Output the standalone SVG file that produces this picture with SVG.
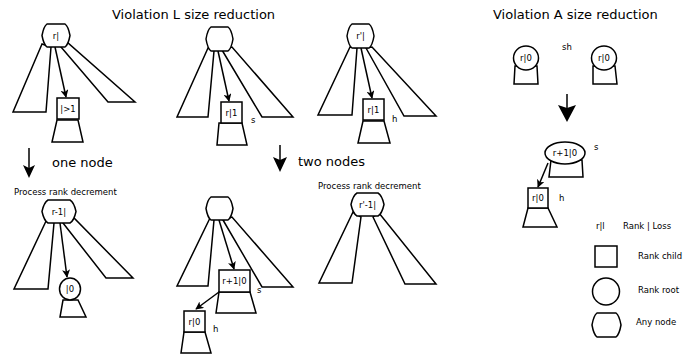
<svg xmlns="http://www.w3.org/2000/svg" width="686" height="358" viewBox="0 0 686 358">
<defs>
<style>
.s{fill:#fff;stroke:#000;stroke-width:1.5;stroke-linejoin:miter}
.e{fill:none;stroke:#000;stroke-width:1.5}
.t{font-family:"DejaVu Sans",Verdana,sans-serif;fill:#000}
.big{font-size:13px}
.sm{font-size:8.5px}
.c{text-anchor:middle}
</style>
<marker id="ah" viewBox="0 0 10 10" refX="9" refY="5" markerWidth="8" markerHeight="8" markerUnits="userSpaceOnUse" orient="auto">
<path d="M0,0 L10,5 L0,10 L2.5,5 Z" fill="#000"/>
</marker>
</defs>
<rect width="686" height="358" fill="#fff"/>

<g id="titles">
<text class="t big" x="112" y="19">Violation L size reduction</text>
<text class="t big" x="493" y="19">Violation A size reduction</text>
<text class="t big" x="52" y="167">one node</text>
<text class="t big" x="298" y="166">two nodes</text>
<text class="t sm" x="14" y="195">Process rank decrement</text>
<text class="t sm" x="318" y="189">Process rank decrement</text>
</g>

<g id="connectors">
<line class="e" x1="55" y1="47" x2="66" y2="97" marker-end="url(#ah)"/>
<line class="e" x1="218" y1="51" x2="229" y2="101" marker-end="url(#ah)"/>
<line class="e" x1="361" y1="48" x2="372" y2="98" marker-end="url(#ah)"/>
<line class="e" x1="60" y1="223" x2="67" y2="277" marker-end="url(#ah)"/>
<line class="e" x1="219" y1="220" x2="234" y2="269" marker-end="url(#ah)"/>
<line class="e" x1="219" y1="292" x2="196" y2="309" marker-end="url(#ah)"/>
<line class="e" x1="548" y1="163" x2="538" y2="187" marker-end="url(#ah)"/>
<path class="e" d="M29,148 V169"/>
<path d="M23,165 L29,178 L35,165 L29,168 Z" fill="#000"/>
<path class="e" d="M280,145 V163"/>
<path d="M273,157 L280,172 L287,157 L280,160 Z" fill="#000"/>
<path class="e" d="M567,94 V110"/>
<path d="M558,105 L567,122 L576,105 L567,108 Z" fill="#000"/>
</g>

<g id="p1">
<polygon class="s" points="42,44 13,112 46,112 51,47"/>
<polygon class="s" points="61,47 108,102 135,102 68,43"/>
<path class="s" d="M47,24 H65 Q68.3,26.3 70,35.5 Q68.3,44.7 65,47 H47 Q43.7,44.7 42,35.5 Q43.7,26.3 47,24 Z"/>
<text class="t sm c" x="56" y="38.5">r|</text>
<polygon class="s" points="57,120 78,120 83,142 52,142"/>
<rect class="s" x="57" y="98" width="22" height="21"/>
<text class="t sm c" x="68" y="112">|&gt;1</text>
</g>

<g id="p2">
<polygon class="s" points="208,48 177,117 208,117 214,51"/>
<polygon class="s" points="222,50 262,117 293,117 232,47"/>
<path class="s" d="M211,27 H228 Q231.4,29.4 233,39 Q231.4,48.6 228,51 H211 Q207.6,48.6 206,39 Q207.6,29.4 211,27 Z"/>
<polygon class="s" points="219,123 242,123 247,145 217,145"/>
<rect class="s" x="221" y="102" width="21" height="21"/>
<text class="t sm c" x="231.5" y="116">r|1</text>
<text class="t sm" x="251" y="123">s</text>
</g>

<g id="p3">
<polygon class="s" points="350,47 318,115 352,115 357,48"/>
<polygon class="s" points="366,48 404,116 436,116 372,47"/>
<path class="s" d="M352,24 H369 Q372.4,26.4 374,36 Q372.4,45.6 369,48 H352 Q348.6,45.6 347,36 Q348.6,26.4 352,24 Z"/>
<text class="t sm c" x="360.5" y="39">r'|</text>
<polygon class="s" points="363,121 384,121 390,143 358,143"/>
<rect class="s" x="363" y="99" width="21" height="21"/>
<text class="t sm c" x="373.5" y="113">r|1</text>
<text class="t sm" x="392" y="122">h</text>
</g>

<g id="p4">
<polygon class="s" points="47,219 14,289 48,289 54,223"/>
<polygon class="s" points="63,223 106,278 133,278 74,218"/>
<path class="s" d="M48,200 H70 Q74,202.3 76,211.5 Q74,220.7 70,223 H48 Q44,220.7 42,211.5 Q44,202.3 48,200 Z"/>
<text class="t sm c" x="59" y="214.5">r-1|</text>
<polygon class="s" points="63,300 78,300 86,317 60,317"/>
<ellipse class="s" cx="70" cy="289" rx="10.5" ry="11"/>
<text class="t sm c" x="70" y="292">|0</text>
</g>

<g id="p5">
<polygon class="s" points="210,218 177,286 208,286 214,220"/>
<polygon class="s" points="223,220 262,287 293,287 232,217"/>
<path class="s" d="M211,197 H228 Q231.4,199.3 233,208.5 Q231.4,217.7 228,220 H211 Q207.6,217.7 206,208.5 Q207.6,199.3 211,197 Z"/>
<polygon class="s" points="219,292 250,292 256,313 216,313"/>
<rect class="s" x="219" y="270" width="31" height="22"/>
<text class="t sm c" x="234.5" y="284">r+1|0</text>
<text class="t sm" x="257" y="293">s</text>
<polygon class="s" points="184,332 205,332 211,353 181,353"/>
<rect class="s" x="184" y="311" width="21" height="21"/>
<text class="t sm c" x="194.5" y="325">r|0</text>
<text class="t sm" x="213" y="332">h</text>
</g>

<g id="p6">
<polygon class="s" points="353,212 319,283 352,283 361,217"/>
<polygon class="s" points="373,217 405,284 436,284 379,213"/>
<path class="s" d="M357,193 H378 Q382,195.3 384,204.5 Q382,213.7 378,216 H357 Q353,213.7 351,204.5 Q353,195.3 357,193 Z"/>
<text class="t sm c" x="367.5" y="207.5">r'-1|</text>
</g>

<g id="p7">
<polygon class="s" points="515,66 537,66 538,84 514,84"/>
<ellipse class="s" cx="526" cy="58" rx="12.5" ry="12"/>
<text class="t sm c" x="526" y="61">r|0</text>
<polygon class="s" points="593,66 615,66 617,84 593,84"/>
<ellipse class="s" cx="604" cy="58" rx="12.5" ry="12"/>
<text class="t sm c" x="604" y="61">r|0</text>
<text class="t sm" x="562" y="50">sh</text>
<polygon class="s" points="551,160 582,160 583,177 549,177"/>
<ellipse class="s" cx="565" cy="153" rx="20" ry="11"/>
<text class="t sm c" x="565" y="156">r+1|0</text>
<text class="t sm" x="594" y="150">s</text>
<polygon class="s" points="528,208 548,208 557,227 523,227"/>
<rect class="s" x="528" y="188" width="20" height="20"/>
<text class="t sm c" x="538" y="201">r|0</text>
<text class="t sm" x="559" y="201">h</text>
</g>

<g id="legend">
<text class="t sm" x="596" y="229">r|l</text>
<text class="t sm" x="623" y="229">Rank | Loss</text>
<rect class="s" x="595" y="246" width="22" height="21"/>
<text class="t sm" x="638" y="259">Rank child</text>
<circle class="s" cx="606" cy="291.5" r="13.5"/>
<text class="t sm" x="638" y="293">Rank root</text>
<path class="s" d="M597,313 H616 Q619.3,315.4 621,325 Q619.3,334.6 616,337 H597 Q593.7,334.6 592,325 Q593.7,315.4 597,313 Z"/>
<text class="t sm" x="636" y="325">Any node</text>
</g>
</svg>
